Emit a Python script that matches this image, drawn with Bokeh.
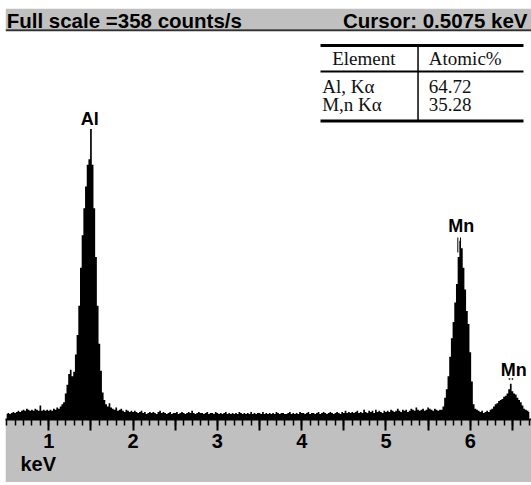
from bokeh.plotting import figure
from bokeh.models import (ColumnDataSource, LinearAxis, FixedTicker, Label,
                          BoxAnnotation, Span, Title, Range1d, CustomJSTickFormatter)
from bokeh.embed import file_html
from bokeh.resources import INLINE

# ---------------- data ----------------
channel_start_kev = 0.50
channel_width_kev = 0.02

counts_low = [5, 6, 5, 6, 7, 6, 7, 8, 7, 8, 9, 8, 10, 9, 8, 9, 8, 10, 9, 8,
              13, 8, 9, 8, 9, 8, 9, 8, 10, 9, 11]                      # 0.50-1.10
counts_al = [10, 12, 14, 16, 24, 32, 42, 46, 40, 44, 60, 78, 105, 140, 170,
             195, 215, 235, 240, 268, 235, 195, 150, 105, 70, 45, 25, 18, 14,
             12, 15, 11, 10, 9, 11, 8, 9, 10, 8, 7, 9, 8, 7, 8, 7]     # 1.12-2.00
counts_bg = [8, 7, 6, 7, 8, 6, 7, 5, 6, 7,
             6, 7, 6, 5, 7, 8, 6, 7, 6, 5,
             6, 7, 5, 6, 6, 7, 5, 6, 7, 6,
             5, 6, 7, 6, 8, 6, 5, 6, 7, 6,
             6, 5, 6, 7, 5, 6, 6, 5, 7, 6,
             5, 6, 5, 6, 7, 5, 6, 5, 6, 5,
             6, 5, 7, 6, 5, 6, 5, 6, 5, 7,
             5, 6, 5, 6, 6, 5, 7, 5, 6, 5,
             6, 5, 6, 5, 7, 6, 5, 6, 6, 5,
             5, 6, 7, 5, 6, 5, 6, 5, 7, 6,
             6, 5, 6, 7, 5, 6, 6, 5, 6, 7,
             5, 6, 7, 6, 5, 6, 7, 6, 5, 6,
             7, 6, 5, 7, 6, 8, 6, 7, 6, 7,
             6, 7, 8, 6, 7, 6, 9, 7, 6, 8,
             7, 8, 6, 9, 7, 8, 7, 6, 8, 7,
             8, 7, 9, 8, 7, 8, 10, 8, 7, 9,
             8, 9, 7, 8, 10, 9, 8, 11, 9, 8,
             9, 10, 8, 9, 11, 10, 9, 8, 10, 9,
             8]                                                         # 2.02-5.62
counts_mn_ka = [9, 9, 12, 20, 28, 40, 58, 75, 90, 108, 125, 150, 165, 158,
                140, 120, 100, 88, 62, 35, 14, 10, 9]                   # 5.64-6.08
counts_mn_kb = [8, 7, 8, 6, 7, 8, 7, 9, 10, 12, 14, 15, 17, 18, 19, 21, 22,
                24, 28, 33, 26, 24, 23, 20, 18, 16, 13, 10, 9, 8, 7]    # 6.10-6.70

counts = counts_low + counts_al + counts_bg + counts_mn_ka + counts_mn_kb
energy_kev = [round(channel_start_kev + channel_width_kev * i, 2) for i in range(len(counts))]

major_ticks = [1, 2, 3, 4, 5, 6]
half_ticks = [1.5, 2.5, 3.5, 4.5, 5.5, 6.5]
minor_ticks = [round(0.1 * k, 1) for k in range(5, 68)]

full_scale = 358
cursor_kev = 0.5075
table_header = ["Element", "Atomic%"]
table_elements = ["Al, K\u03b1", "M,n K\u03b1"]
table_atomic = ["64.72", "35.28"]
peak_labels = ["Al", "Mn", "Mn"]

# ---------------- figure ----------------
GRAY = "#c0c0c0"
p = figure(frame_width=526, frame_height=411,
           x_range=Range1d(0.4864, 6.726), y_range=Range1d(0, 379.2),
           x_axis_type=None, y_axis_type=None,
           output_backend="svg", toolbar_location=None,
           min_border_left=0, min_border_right=0, min_border_top=0, min_border_bottom=63,
           background_fill_color="white", border_fill_color=GRAY,
           outline_line_color=None)
p.margin = (8, 0, 0, 5)

src = ColumnDataSource(dict(energy=energy_kev, counts=counts))
p.varea_step(x="energy", y1=0, y2="counts", step_mode="center", source=src,
             fill_color="black")

ax = LinearAxis(ticker=FixedTicker(ticks=major_ticks + half_ticks, minor_ticks=minor_ticks),
                formatter=CustomJSTickFormatter(code="return Number.isInteger(tick) ? tick.toString() : ''"))
ax.axis_line_color = "black"
ax.axis_line_width = 2
ax.major_tick_in = 0
ax.major_tick_out = 11
ax.major_tick_line_width = 2
ax.minor_tick_in = 0
ax.minor_tick_out = 6
ax.minor_tick_line_width = 1.5
ax.major_label_text_font = "Liberation Sans"
ax.major_label_text_font_style = "bold"
ax.major_label_text_font_size = "20px"
ax.major_label_text_color = "black"
ax.major_label_standoff = 3
p.add_layout(ax, "below")

p.add_layout(Title(text="keV", align="left", offset=15, standoff=0,
                   text_font="Liberation Sans", text_font_style="bold",
                   text_font_size="20px", text_color="black"), "below")

# top status bar
p.add_layout(BoxAnnotation(bottom=360.2, fill_color=GRAY, fill_alpha=1, line_color=None))
p.add_layout(Span(location=359.2, dimension="width", line_color="#303030", line_width=2))
p.add_layout(Label(x=0.50, y=368.0, text=f"Full scale ={full_scale}  counts/s",
                   text_font="Liberation Sans", text_font_style="bold",
                   text_font_size="20.5px", text_color="black",
                   text_align="left", text_baseline="alphabetic"))
p.add_layout(Label(x=6.679, y=368.0, text=f"Cursor: {cursor_kev} keV",
                   text_font="Liberation Sans", text_font_style="bold",
                   text_font_size="20.5px", text_color="black",
                   text_align="right", text_baseline="alphabetic"))

# peak labels
for txt, xk, yc in zip(peak_labels, [1.485, 5.893, 6.516], [276.8, 178.3, 46.1]):
    p.add_layout(Label(x=xk, y=yc, text=txt, text_font="Liberation Sans",
                       text_font_style="bold", text_font_size="18px",
                       text_color="black", text_align="center",
                       text_baseline="alphabetic"))
# line markers
p.segment(x0=[5.852, 5.884], y0=[154.1, 154.1], x1=[5.852, 5.884], y1=[167.9, 167.9],
          line_color="black", line_width=1)
p.segment(x0=[6.465, 6.50], y0=[36.6, 36.6], x1=[6.465, 6.50], y1=[38.1, 38.1],
          line_color="black", line_width=1.5)

# results table
tl, tr, tv = 4.223, 6.631, 5.380
p.segment(x0=[tl, tl, tl], x1=[tr, tr, tr], y0=[345.1, 321.1, 275.4], y1=[345.1, 321.1, 275.4],
          line_color="black", line_width=[3, 2, 3])
p.segment(x0=[tv], x1=[tv], y0=[345.1], y1=[275.4], line_color="black", line_width=1.5)

def tlabel(x, y, t):
    p.add_layout(Label(x=x, y=y, text=t, text_font="Liberation Serif",
                       text_font_size="19px", text_color="#111111",
                       text_align="left", text_baseline="alphabetic"))

tlabel(4.362, 333.0, table_header[0])
tlabel(5.508, 333.0, table_header[1])
for i, (el, at) in enumerate(zip(table_elements, table_atomic)):
    yb = [307.2, 290.6][i]
    tlabel(4.243, yb, el)
    tlabel(5.508, yb, at)

open("out.html", "w").write(file_html(p, INLINE))
